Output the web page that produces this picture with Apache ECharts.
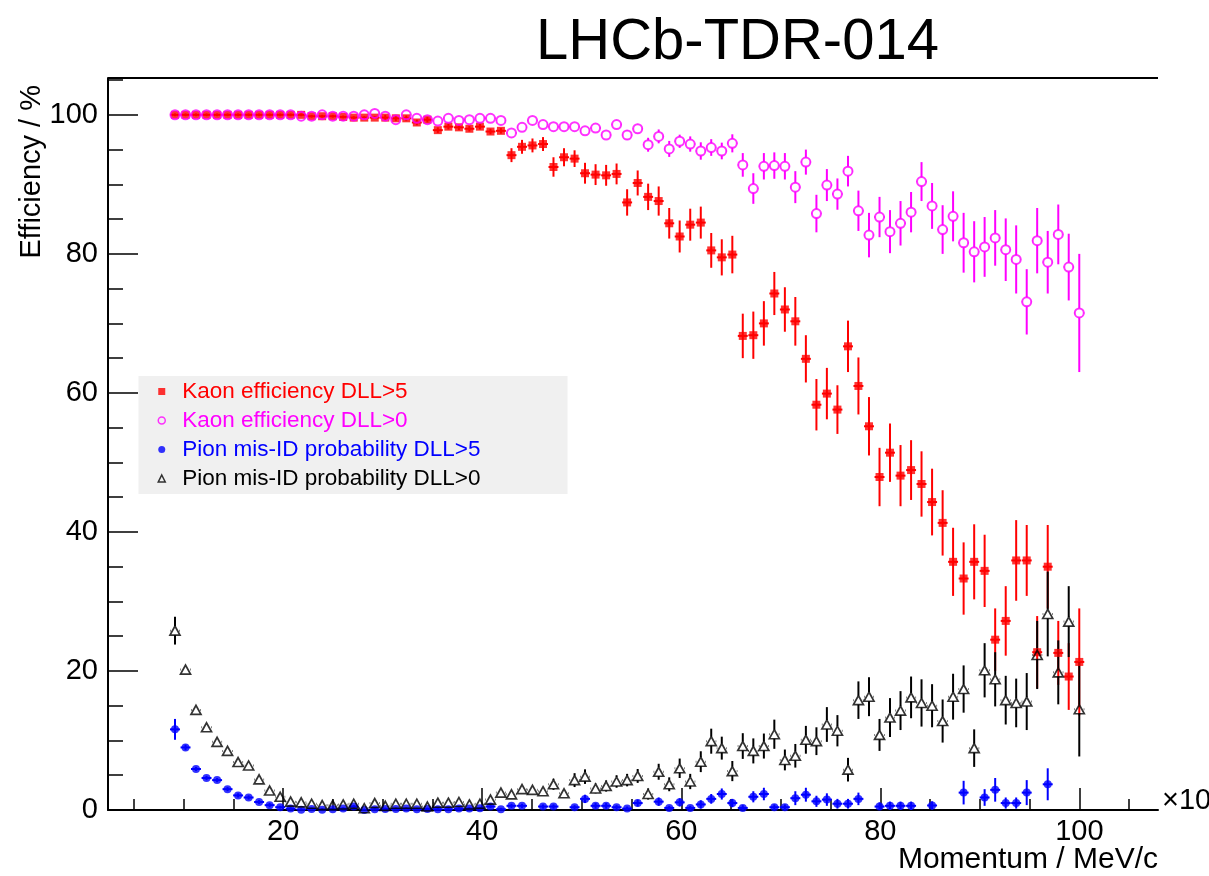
<!DOCTYPE html>
<html>
<head>
<meta charset="utf-8">
<script src="https://cdn.jsdelivr.net/npm/echarts@6/dist/echarts.min.js"></script>
<style>
  html, body { margin: 0; padding: 0; background: #ffffff; }
  #chart { width: 1209px; height: 876px; }
</style>
</head>
<body>
<div id="chart"></div>
<script>
const FONT = '"Liberation Sans", Arial, Helvetica, sans-serif';

// Momentum bin centres (x10^3 MeV/c)
const momentum = [
  9.13, 10.19, 11.24, 12.30, 13.36, 14.41, 15.47, 16.53, 17.58, 18.64,
  19.70, 20.75, 21.81, 22.86, 23.92, 24.98, 26.03, 27.09, 28.15, 29.20,
  30.26, 31.32, 32.37, 33.43, 34.49, 35.54, 36.60, 37.66, 38.71, 39.77,
  40.83, 41.88, 42.94, 44.00, 45.05, 46.11, 47.16, 48.22, 49.28, 50.33,
  51.39, 52.45, 53.50, 54.56, 55.62, 56.67, 57.73, 58.79, 59.84, 60.90,
  61.96, 63.01, 64.07, 65.13, 66.18, 67.24, 68.30, 69.35, 70.41, 71.46,
  72.52, 73.58, 74.63, 75.69, 76.75, 77.80, 78.86, 79.92, 80.97, 82.03,
  83.09, 84.14, 85.20, 86.26, 87.31, 88.37, 89.43, 90.48, 91.54, 92.60,
  93.65, 94.71, 95.76, 96.82, 97.88, 98.93, 99.99
];

// Kaon efficiency, DLL > 5 (%)
const kaonEffDLL5 = [
  100.0, 100.0, 100.0, 100.0, 100.0, 100.0, 100.0, 100.0, 100.0, 100.0,
  100.0, 100.0, 100.0, 99.8, 99.8, 99.8, 99.7, 99.6, 99.6, 99.6,
  99.6, 99.5, 99.5, 98.9, 99.3, 97.8, 98.3, 98.2, 98.0, 98.3,
  97.6, 97.7, 94.2, 95.4, 95.6, 95.8, 92.5, 93.9, 93.7, 91.6,
  91.4, 91.3, 91.5, 87.4, 90.2, 88.2, 87.6, 84.4, 82.5, 84.2,
  84.5, 80.5, 79.5, 79.9, 68.2, 68.3, 70.0, 74.3, 72.0, 70.3,
  64.9, 58.3, 59.9, 57.6, 66.7, 61.0, 55.2, 47.9, 51.4, 48.1,
  48.9, 46.9, 44.3, 41.3, 35.7, 33.3, 35.7, 34.4, 24.5, 27.2,
  35.9, 35.9, 22.7, 35.0, 22.6, 19.2, 21.3
];
const kaonEffDLL5Err = [
  0.2, 0.2, 0.2, 0.2, 0.2, 0.2, 0.2, 0.2, 0.2, 0.2,
  0.2, 0.2, 0.2, 0.2, 0.2, 0.2, 0.2, 0.2, 0.2, 0.2,
  0.4, 0.4, 0.4, 0.4, 0.4, 0.4, 0.4, 0.4, 0.4, 0.4,
  0.4, 0.4, 1.0, 1.0, 1.0, 1.0, 1.4, 1.3, 1.2, 1.5,
  1.5, 1.5, 1.5, 1.9, 1.8, 1.9, 2.1, 2.2, 2.3, 2.3,
  2.3, 2.5, 2.6, 2.7, 3.2, 3.4, 3.2, 3.1, 3.2, 3.5,
  3.4, 3.7, 3.7, 3.5, 3.7, 4.1, 4.2, 4.2, 4.2, 4.4,
  4.3, 4.7, 4.8, 4.7, 4.9, 5.2, 5.4, 5.2, 4.5, 5.0,
  5.8, 5.1, 5.2, 6.0, 4.6, 4.8, 7.7
];

// Kaon efficiency, DLL > 0 (%)
const kaonEffDLL0 = [
  100.0, 100.0, 100.0, 100.0, 100.0, 100.0, 100.0, 100.0, 100.0, 100.0,
  100.0, 100.0, 99.8, 99.8, 100.0, 99.8, 99.8, 99.8, 100.0, 100.2,
  99.8, 99.3, 100.0, 99.5, 99.3, 99.1, 99.5, 99.2, 99.3, 99.5,
  99.5, 99.2, 97.4, 98.2, 99.2, 98.6, 98.3, 98.3, 98.3, 97.7,
  98.1, 97.1, 98.6, 97.1, 98.0, 95.7, 96.9, 95.1, 96.2, 95.8,
  94.8, 95.3, 94.8, 95.9, 92.8, 89.4, 92.6, 92.7, 92.6, 89.6,
  93.2, 85.8, 89.9, 88.6, 91.9, 86.2, 82.7, 85.3, 83.2, 84.4,
  86.0, 90.4, 86.9, 83.5, 85.4, 81.6, 80.3, 81.0, 82.3, 80.6,
  79.2, 73.1, 81.9, 78.8, 82.8, 78.1, 71.5
];
const kaonEffDLL0Err = [
  0.2, 0.2, 0.2, 0.2, 0.2, 0.2, 0.2, 0.2, 0.2, 0.2,
  0.2, 0.2, 0.2, 0.2, 0.2, 0.2, 0.2, 0.2, 0.2, 0.2,
  0.3, 0.3, 0.3, 0.3, 0.3, 0.3, 0.3, 0.3, 0.3, 0.3,
  0.3, 0.3, 0.5, 0.5, 0.5, 0.5, 0.5, 0.5, 0.5, 0.6,
  0.6, 0.6, 0.6, 0.7, 0.7, 1.0, 1.0, 1.15, 0.95, 1.1,
  1.25, 1.2, 1.2, 1.3, 1.7, 2.2, 1.9, 1.9, 1.9, 2.3,
  1.8, 2.7, 2.3, 2.25, 2.2, 2.9, 3.2, 2.9, 3.1, 3.2,
  2.9, 2.8, 3.3, 3.5, 3.6, 4.3, 4.4, 4.3, 4.0, 4.5,
  4.9, 4.7, 4.7, 4.5, 4.3, 4.8, 8.5
];

// Pion mis-ID probability, DLL > 5 (%); null where no entry
const pionMisIdDLL5 = [
  11.6, 9.0, 5.9, 4.6, 4.3, 3.0, 2.1, 1.8, 1.15, 0.7,
  0.4, 0.2, 0.05, 0.15, 0.05, 0.1, 0.2, 0.5, 0.0, 0.1,
  0.15, 0.15, 0.2, 0.1, 0.15, 0.1, 0.1, 0.2, 0.2, 0.25,
  0.5, 0.1, 0.6, 0.6, null, 0.5, 0.5, null, 0.4, 1.6,
  0.6, 0.6, 0.4, 0.2, 1.0, null, 1.2, 0.3, 1.1, 0.3,
  0.8, 1.6, 2.3, 1.0, 0.3, 1.9, 2.3, 0.4, 0.4, 1.7,
  2.2, 1.25, 1.5, 0.9, 0.9, 1.6, null, 0.5, 0.6, 0.6,
  0.6, null, 0.65, null, null, 2.5, null, 1.8, 2.9, 1.0,
  1.0, 2.5, null, 3.7, null, null, null
];
const pionMisIdDLL5Err = [
  1.5, 0.4, 0.3, 0.3, 0.3, 0.3, 0.3, 0.3, 0.3, 0.3,
  0.2, 0.2, 0.2, 0.2, 0.2, 0.2, 0.2, 0.2, 0.2, 0.2,
  0.2, 0.2, 0.2, 0.2, 0.2, 0.2, 0.2, 0.2, 0.2, 0.2,
  0.2, 0.2, 0.3, 0.3, 0, 0.3, 0.3, 0, 0.3, 0.6,
  0.4, 0.4, 0.3, 0.3, 0.5, 0, 0.6, 0.3, 0.6, 0.3,
  0.6, 0.7, 0.8, 0.6, 0.4, 0.8, 0.9, 0.4, 0.4, 1.0,
  1.0, 0.8, 0.9, 0.7, 0.7, 0.9, 0, 0.6, 0.6, 0.6,
  0.6, 0, 0.6, 0, 0, 1.7, 0, 1.2, 1.7, 0.8,
  0.8, 1.8, 0, 2.3, 0, 0, 0
];

// Pion mis-ID probability, DLL > 0 (%)
const pionMisIdDLL0 = [
  25.8, 20.2, 14.4, 11.9, 9.8, 8.5, 6.9, 6.4, 4.4, 2.8,
  1.9, 1.2, 1.1, 0.9, 0.7, 0.7, 0.8, 0.9, 0.25, 1.0,
  0.6, 0.9, 0.9, 0.9, 0.5, 1.05, 1.05, 1.15, 0.8, 0.9,
  1.5, 2.5, 2.25, 3.0, 2.9, 2.7, 3.7, 2.4, 4.3, 4.8,
  3.1, 3.45, 4.1, 4.3, 4.9, 2.3, 5.5, 3.7, 6.0, 4.1,
  6.95, 9.9, 8.9, 5.6, 9.2, 8.5, 9.2, 10.9, 7.2, 7.8,
  10.1, 9.9, 12.3, 11.4, 5.8, 15.8, 16.3, 10.8, 13.3, 14.3,
  16.2, 15.4, 15.0, 12.8, 16.3, 17.4, 8.9, 20.1, 18.8, 15.8,
  15.4, 15.6, 22.3, 28.2, 19.8, 27.1, 14.5
];
const pionMisIdDLL0Err = [
  2.0, 0.5, 0.4, 0.35, 0.35, 0.35, 0.35, 0.35, 0.35, 0.35,
  0.3, 0.3, 0.3, 0.3, 0.3, 0.3, 0.3, 0.3, 0.3, 0.3,
  0.3, 0.3, 0.3, 0.3, 0.3, 0.3, 0.3, 0.3, 0.3, 0.3,
  0.4, 0.5, 0.5, 0.5, 0.5, 0.5, 0.8, 0.5, 1.0, 1.05,
  0.7, 0.8, 0.9, 0.9, 1.0, 0.8, 1.15, 1.0, 1.4, 1.1,
  1.5, 1.8, 1.65, 1.45, 1.85, 1.8, 1.8, 2.1, 1.5, 1.7,
  2.0, 2.0, 2.5, 2.25, 1.7, 2.7, 2.8, 2.3, 2.8, 2.8,
  3.0, 3.4, 3.1, 3.1, 3.3, 3.4, 2.7, 3.9, 3.9, 3.5,
  3.5, 4.1, 4.9, 6.1, 4.6, 5.1, 6.8
];

// Axis ticks and labels
const xMajorTicks = [20, 40, 60, 80, 100];
const xMinorTicks = [5, 10, 15, 25, 30, 35, 45, 50, 55, 65, 70, 75, 85, 90, 95, 105];
const yMajorTicks = [0, 20, 40, 60, 80, 100];
const yMinorTicks = [5, 10, 15, 25, 30, 35, 45, 50, 55, 65, 70, 75, 85, 90, 95, 105];

const X_MIN = 2.4, X_MAX = 107.9;
const Y_MIN = 0, Y_MAX = 105.3;
const BIN_HALF_WIDTH = 0.5;

// Four data sets: values, errors, colours, marker style
const sets = [
  { name: 'Kaon efficiency DLL>5', vals: kaonEffDLL5, errs: kaonEffDLL5Err, color: '#ff0000',
    symbol: 'rect', size: 8, gap: 0, style: { color: '#ff0000' },
    legendStyle: { color: '#ff0000' } },
  { name: 'Kaon efficiency DLL>0', vals: kaonEffDLL0, errs: kaonEffDLL0Err, color: '#ff00ff',
    symbol: 'circle', size: 9, gap: 4.5, style: { color: 'rgba(0,0,0,0)', borderColor: '#ff00ff', borderWidth: 2 },
    legendStyle: { color: 'rgba(0,0,0,0)', borderColor: '#ff00ff', borderWidth: 1.5 } },
  { name: 'Pion mis-ID probability DLL>5', vals: pionMisIdDLL5, errs: pionMisIdDLL5Err, color: '#0000ff',
    symbol: 'circle', size: 8, gap: 0, style: { color: '#0000ff' },
    legendStyle: { color: '#0000ff' } },
  { name: 'Pion mis-ID probability DLL>0', vals: pionMisIdDLL0, errs: pionMisIdDLL0Err, color: '#000000',
    symbol: 'triangle', size: [10, 9], gap: 4.5, style: { color: 'rgba(0,0,0,0)', borderColor: '#000000', borderWidth: 1.7 },
    legendStyle: { color: 'rgba(0,0,0,0)', borderColor: '#000000', borderWidth: 1.5 } }
];

function pointsOf(vals, errs) {
  const out = [];
  for (let i = 0; i < momentum.length; i++) {
    if (vals[i] === null) continue;
    out.push([momentum[i], vals[i], errs[i]]);
  }
  return out;
}

// Vertical (value) and horizontal (bin width) error bars, with a gap around open markers
function errorBarRenderer(gap) {
  return function (params, api) {
    const x = api.value(0), y = api.value(1), e = api.value(2);
    const c = api.coord([x, y]);
    const hi = api.coord([x, y + e]);
    const lo = api.coord([x, y - e]);
    const l = api.coord([x - BIN_HALF_WIDTH, y]);
    const r = api.coord([x + BIN_HALF_WIDTH, y]);
    const style = { stroke: api.visual('color'), lineWidth: 2, fill: null };
    const children = [];
    if (c[1] - gap > hi[1]) {
      children.push({ type: 'line', shape: { x1: c[0], y1: hi[1], x2: c[0], y2: c[1] - gap }, style });
    }
    if (lo[1] > c[1] + gap) {
      children.push({ type: 'line', shape: { x1: c[0], y1: c[1] + gap, x2: c[0], y2: lo[1] }, style });
    }
    if (c[0] - gap > l[0]) {
      children.push({ type: 'line', shape: { x1: l[0], y1: c[1], x2: c[0] - gap, y2: c[1] }, style });
    }
    if (r[0] > c[0] + gap) {
      children.push({ type: 'line', shape: { x1: c[0] + gap, y1: c[1], x2: r[0], y2: c[1] }, style });
    }
    return { type: 'group', children };
  };
}

const series = [];
sets.forEach(function (s) {
  const pts = pointsOf(s.vals, s.errs);
  series.push({
    type: 'custom',
    name: s.name + ' errors',
    xAxisIndex: 0, yAxisIndex: 0,
    data: pts,
    encode: { x: 0, y: 1 },
    itemStyle: { color: s.color },
    renderItem: errorBarRenderer(s.gap),
    clip: true,
    silent: true
  });
  series.push({
    type: 'scatter',
    name: s.name,
    xAxisIndex: 0, yAxisIndex: 0,
    data: pts.map(function (p) { return [p[0], p[1]]; }),
    symbol: s.symbol,
    symbolSize: s.size,
    itemStyle: s.style,
    clip: true,
    silent: true
  });
});

const axisLineStyle = { color: '#000000', width: 2 };
const tickLineStyle = { color: '#000000', width: 1.5 };

const option = {
  backgroundColor: '#ffffff',
  animation: false,
  textStyle: { fontFamily: FONT },
  grid: { left: 108, right: 51, top: 78, bottom: 66, containLabel: false, outerBoundsMode: 'none' },
  legend: {
    orient: 'vertical',
    left: 138.5,
    top: 376,
    padding: [4, 87, 4, 19],
    itemGap: 6,
    itemWidth: 7,
    itemHeight: 7,
    itemTextGap: 28,
    backgroundColor: '#f0f0f0',
    borderWidth: 0,
    selectedMode: false,
    textStyle: { fontSize: 22.5, lineHeight: 22.5, fontFamily: FONT, padding: [0, 0, 0, 12] },
    data: sets.map(function (s) {
      return { name: s.name, icon: s.symbol, itemStyle: s.legendStyle,
               textStyle: { color: s.color, padding: [0, 0, 0, 12] } };
    })
  },
  xAxis: [
    {
      type: 'value', min: X_MIN, max: X_MAX, position: 'bottom',
      axisLine: { show: true, onZero: false, lineStyle: axisLineStyle },
      axisTick: { show: true, inside: true, length: 22, customValues: xMajorTicks, lineStyle: tickLineStyle },
      axisLabel: { show: true, customValues: xMajorTicks, fontSize: 29, color: '#000', fontFamily: FONT, margin: 7 },
      splitLine: { show: false }
    },
    {
      type: 'value', min: X_MIN, max: X_MAX, position: 'bottom',
      axisLine: { show: false },
      axisTick: { show: true, inside: true, length: 11, customValues: xMinorTicks, lineStyle: tickLineStyle },
      axisLabel: { show: false },
      splitLine: { show: false }
    }
  ],
  yAxis: [
    {
      type: 'value', min: Y_MIN, max: Y_MAX, position: 'left',
      axisLine: { show: true, onZero: false, lineStyle: axisLineStyle },
      axisTick: { show: true, inside: true, length: 30, customValues: yMajorTicks, lineStyle: tickLineStyle },
      axisLabel: { show: true, customValues: yMajorTicks, fontSize: 29, color: '#000', fontFamily: FONT, margin: 10 },
      splitLine: { show: false }
    },
    {
      type: 'value', min: Y_MIN, max: Y_MAX, position: 'left',
      axisLine: { show: false },
      axisTick: { show: true, inside: true, length: 15, customValues: yMinorTicks, lineStyle: tickLineStyle },
      axisLabel: { show: false },
      splitLine: { show: false }
    }
  ],
  graphic: [
    { type: 'text', x: 737.5, y: 43,
      style: { text: 'LHCb-TDR-014', font: '58px ' + FONT, fill: '#000', textAlign: 'center', textVerticalAlign: 'middle' } },
    { type: 'line', shape: { x1: 108, y1: 78, x2: 1158, y2: 78 }, style: { stroke: '#000', lineWidth: 2 } },
    { type: 'text', x: 1158, y: 860,
      style: { text: 'Momentum / MeV/c', font: '30px ' + FONT, fill: '#000', textAlign: 'right', textVerticalAlign: 'middle' } },
    { type: 'text', x: 32, y: 85, rotation: Math.PI / 2,
      style: { text: 'Efficiency / %', font: '29px ' + FONT, fill: '#000', textAlign: 'right', textVerticalAlign: 'middle' } },
    { type: 'text', x: 1162, y: 801,
      style: { text: '×10³', font: '29px ' + FONT, fill: '#000', textAlign: 'left', textVerticalAlign: 'middle' } }
  ],
  series: series
};

const chart = echarts.init(document.getElementById('chart'), null, { renderer: 'canvas', width: 1209, height: 876 });
chart.setOption(option);
</script>
</body>
</html>
